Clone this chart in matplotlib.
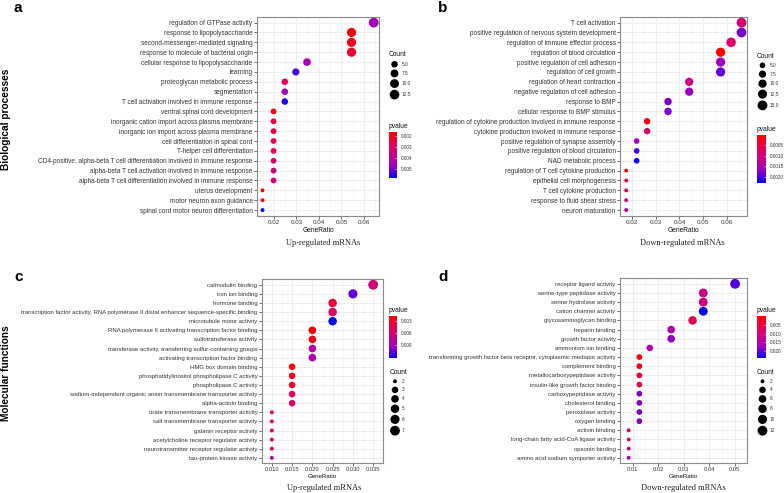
import numpy as np
import matplotlib
matplotlib.use('Agg')
import matplotlib.pyplot as plt
from matplotlib.colors import LinearSegmentedColormap, Normalize
from matplotlib.cm import ScalarMappable

W, H = 784, 493
plt.rcParams['font.family'] = ['Liberation Sans', 'DejaVu Sans']

# red -> blue as ggplot interpolates it (through Lab)
cmap = LinearSegmentedColormap.from_list(
    'rb', ['#FF0000', '#E80050', '#CA0089', '#9A00C3', '#0000FF'])

# ---- a: biological processes, up-regulated
a_terms = ['regulation of GTPase activity', 'response to lipopolysaccharide',
           'second-messenger-mediated signaling', 'response to molecule of bacterial origin',
           'cellular response to lipopolysaccharide', 'learning',
           'proteoglycan metabolic process', 'segmentation',
           'T cell activation involved in immune response', 'ventral spinal cord development',
           'inorganic cation import across plasma membrane',
           'inorganic ion import across plasma membrane', 'cell differentiation in spinal cord',
           'T-helper cell differentiation',
           'CD4-positive, alpha-beta T cell differentiation involved in immune response',
           'alpha-beta T cell activation involved in immune response',
           'alpha-beta T cell differentiation involved in immune response',
           'uterus development', 'motor neuron axon guidance',
           'spinal cord motor neuron differentiation']
a_ratio = [0.0644, 0.0545, 0.0545, 0.0545, 0.0347, 0.0297, 0.0248, 0.0248, 0.0248, 0.0198,
           0.0198, 0.0198, 0.0198, 0.0198, 0.0198, 0.0198, 0.0198, 0.0149, 0.0149, 0.0149]
a_count = [13, 11, 11, 11, 7, 6, 5, 5, 5, 4, 4, 4, 4, 4, 4, 4, 4, 3, 3, 3]
a_pval = [0.0046, 0.0017, 0.0020, 0.0022, 0.0045, 0.0053, 0.0028, 0.0046, 0.0056, 0.0016,
          0.0024, 0.0024, 0.0026, 0.0026, 0.0030, 0.0034, 0.0033, 0.0016, 0.0017, 0.0058]

# ---- b: biological processes, down-regulated
b_terms = ['T cell activation', 'positive regulation of nervous system development',
           'regulation of immune effector process', 'regulation of blood circulation',
           'positive regulation of cell adhesion', 'regulation of cell growth',
           'regulation of heart contraction', 'negative regulation of cell adhesion',
           'response to BMP', 'cellular response to BMP stimulus',
           'regulation of cytokine production involved in immune response',
           'cytokine production involved in immune response',
           'positive regulation of synapse assembly', 'positive regulation of blood circulation',
           'NAD metabolic process', 'regulation of T cell cytokine production',
           'epithelial cell morphogenesis', 'T cell cytokine production',
           'response to fluid shear stress', 'neuron maturation']
b_ratio = [0.0661, 0.0661, 0.0617, 0.0573, 0.0573, 0.0573, 0.0441, 0.0441, 0.0352, 0.0352,
           0.0264, 0.0264, 0.0220, 0.0220, 0.0220, 0.0176, 0.0176, 0.0176, 0.0176, 0.0176]
b_count = [15, 15, 14, 13, 13, 13, 10, 10, 8, 8, 6, 6, 5, 5, 5, 4, 4, 4, 4, 4]
b_pval = [0.0009, 0.0018, 0.0008, 0.00001, 0.0016, 0.0019, 0.0011, 0.0017, 0.0018, 0.0018,
          0.0002, 0.0008, 0.0016, 0.0020, 0.00227, 0.0001, 0.0003, 0.0006, 0.0010, 0.0015]

# ---- c: molecular functions, up-regulated
c_terms = ['calmodulin binding', 'iron ion binding', 'hormone binding',
           'transcription factor activity, RNA polymerase II distal enhancer sequence-specific binding',
           'microtubule motor activity',
           'RNA polymerase II activating transcription factor binding',
           'sulfotransferase activity',
           'transferase activity, transferring sulfur-containing groups',
           'activating transcription factor binding', 'HMG box domain binding',
           'phosphatidylinositol phospholipase C activity', 'phospholipase C activity',
           'sodium-independent organic anion transmembrane transporter activity',
           'alpha-actinin binding', 'urate transmembrane transporter activity',
           'salt transmembrane transporter activity', 'galanin receptor activity',
           'acetylcholine receptor regulator activity',
           'neurotransmitter receptor regulator activity', 'tau-protein kinase activity']
c_ratio = [0.035, 0.030, 0.025, 0.025, 0.025, 0.020, 0.020, 0.020, 0.020, 0.015,
           0.015, 0.015, 0.015, 0.015, 0.010, 0.010, 0.010, 0.010, 0.010, 0.010]
c_count = [7, 6, 5, 5, 5, 4, 4, 4, 4, 3, 3, 3, 3, 3, 2, 2, 2, 2, 2, 2]
c_pval = [0.0062, 0.0105, 0.0040, 0.0052, 0.0121, 0.0019, 0.0028, 0.0082, 0.0084, 0.0020,
          0.0030, 0.0032, 0.0048, 0.0050, 0.0040, 0.0045, 0.0050, 0.0055, 0.0055, 0.0076]

# ---- d: molecular functions, down-regulated
d_terms = ['receptor ligand activity', 'serine-type peptidase activity',
           'serine hydrolase activity', 'cation channel activity', 'glycosaminoglycan binding',
           'heparin binding', 'growth factor activity', 'ammonium ion binding',
           'transforming growth factor beta receptor, cytoplasmic mediator activity',
           'complement binding', 'metallocarboxypeptidase activity',
           'insulin-like growth factor binding', 'carboxypeptidase activity',
           'cholesterol binding', 'peroxidase activity', 'oxygen binding', 'activin binding',
           'long-chain fatty acid-CoA ligase activity', 'opsonin binding',
           'amino acid:sodium symporter activity']
d_ratio = [0.0502, 0.0377, 0.0377, 0.0377, 0.0335, 0.0251, 0.0251, 0.0167, 0.0126, 0.0126,
           0.0126, 0.0126, 0.0126, 0.0126, 0.0126, 0.0126, 0.0084, 0.0084, 0.0084, 0.0084]
d_count = [12, 9, 9, 9, 8, 6, 6, 4, 3, 3, 3, 3, 3, 3, 3, 3, 2, 2, 2, 2]
d_pval = [0.0205, 0.0110, 0.0112, 0.0237, 0.0060, 0.0150, 0.0180, 0.0145, 0.0002, 0.0020,
          0.0035, 0.0050, 0.0185, 0.0185, 0.0188, 0.0188, 0.0075, 0.0085, 0.0110, 0.0165]

fig = plt.figure(figsize=(W / 100, H / 100), dpi=100)
ov = fig.add_axes([0, 0, 1, 1])
ov.set_xlim(0, W)
ov.set_ylim(H, 0)
ov.axis('off')


def box(x0, y0, x1, y1):
    return [x0 / W, 1 - y1 / H, (x1 - x0) / W, (y1 - y0) / H]


def diam(c, cmin, cmax):
    # scale_size(range = c(3, 8)) -> area scaled diameter, in pixels
    return 3.9 + 5.9 * np.sqrt((np.asarray(c, float) - cmin) / (cmax - cmin))


def txt(x, y, s, **kw):
    fig.text(x / W, 1 - y / H, s, **kw)


def dotplot(rect, terms, ratio, count, pval, xticks, fmt, fs=1.0):
    ax = fig.add_axes(box(*rect))
    n = len(terms)
    y = np.arange(n)[::-1]
    cmin, cmax = min(count), max(count)
    norm = Normalize(min(pval), max(pval))
    ax.scatter(ratio, y, s=(diam(count, cmin, cmax) * 0.72) ** 2, c=pval, cmap=cmap,
               norm=norm, linewidths=0, zorder=3)
    lo, hi = min(ratio), max(ratio)
    pad = 0.05 * (hi - lo)
    ax.set_xlim(lo - pad, hi + pad)
    ax.set_ylim(-0.6, n - 0.4)
    ax.set_xticks(xticks)
    ax.set_xticklabels([fmt.format(t) for t in xticks])
    step = xticks[1] - xticks[0]
    minor = [xticks[0] - step / 2] + [t + step / 2 for t in xticks]
    ax.set_xticks(minor, minor=True)
    ax.set_yticks(y)
    ax.set_yticklabels(terms)
    ax.grid(True, which='major', color='#EBEBEB', lw=0.6, zorder=0)
    ax.grid(True, which='minor', axis='x', color='#F2F2F2', lw=0.4, zorder=0)
    ax.set_axisbelow(True)
    ax.tick_params(axis='both', which='major', length=2, width=0.5, color='#333333',
                   labelsize=4.7 * fs, labelcolor='#333333', pad=1.2)
    ax.tick_params(axis='x', which='minor', length=0)
    ax.tick_params(axis='x', labelsize=4.5 * fs, pad=1)
    for sp in ax.spines.values():
        sp.set_color('#8a8a8a')
        sp.set_linewidth(0.8)
    ax.set_xlabel('GeneRatio', fontsize=4.8 * fs, color='#111111', labelpad=1.2)
    return cmin, cmax, norm


def colorbar(rect, norm, ticks, fmt, title):
    x0, y0, x1, y1 = rect
    txt(x0, y0 - 5.5, title, fontsize=4.8, va='center', ha='left', color='#111111')
    cax = fig.add_axes(box(*rect))
    cb = fig.colorbar(ScalarMappable(norm=norm, cmap=cmap), cax=cax)
    cb.outline.set_visible(False)
    cax.invert_yaxis()
    cb.set_ticks(ticks)
    cb.set_ticklabels([fmt.format(t) for t in ticks])
    cax.tick_params(length=1.5, width=0.4, color='white', direction='in',
                    labelsize=3.4, labelcolor='#333333', pad=2.5)


def size_legend(x, y0, breaks, labels, cmin, cmax):
    txt(x - 5.5, y0, 'Count', fontsize=4.8, va='center', ha='left', color='#111111')
    d = diam(breaks, cmin, cmax)
    h = np.maximum(8.6, d + 1.8)
    cy = y0 + 5 + np.cumsum(h) - h / 2
    ov.scatter([x] * len(breaks), cy, s=(d * 0.72) ** 2, color='black', linewidths=0)
    for yy, lab in zip(cy, labels):
        ov.text(x + 7, yy, lab, fontsize=3.4, va='center', ha='left', color='#333333')


# panel a
cmin, cmax, norm = dotplot((257, 16.7, 379.3, 216), a_terms, a_ratio, a_count, a_pval,
                           [0.02, 0.03, 0.04, 0.05, 0.06], '{:.2f}')
size_legend(394.5, 55, [5, 7.5, 10, 12.5], ['5.0', '7.5', '10.0', '12.5'], cmin, cmax)
colorbar((389, 132, 397.5, 178), norm, [0.002, 0.003, 0.004, 0.005], '{:.3f}', 'pvalue')

# panel b
cmin, cmax, norm = dotplot((620, 16.7, 747.3, 216), b_terms, b_ratio, b_count, b_pval,
                           [0.02, 0.03, 0.04, 0.05, 0.06], '{:.2f}')
size_legend(762.5, 56, [5, 7.5, 10, 12.5, 15], ['5.0', '7.5', '10.0', '12.5', '15.0'], cmin, cmax)
colorbar((757, 135, 766, 182.5), norm, [0.0005, 0.0010, 0.0015, 0.0020], '{:.4f}', 'pvalue')

# panel c
cmin, cmax, norm = dotplot((261.7, 279.3, 383.3, 463.3), c_terms, c_ratio, c_count, c_pval,
                           [0.010, 0.015, 0.020, 0.025, 0.030, 0.035], '{:.3f}', fs=0.92)
colorbar((389, 316, 397.5, 358), norm, [0.003, 0.006, 0.009], '{:.3f}', 'pvalue')
size_legend(395, 372, [2, 3, 4, 5, 6, 7], ['2', '3', '4', '5', '6', '7'], cmin, cmax)

# panel d
cmin, cmax, norm = dotplot((620, 278.3, 747.3, 463.3), d_terms, d_ratio, d_count, d_pval,
                           [0.01, 0.02, 0.03, 0.04, 0.05], '{:.2f}', fs=0.92)
colorbar((757, 316, 766, 358), norm, [0.005, 0.010, 0.015, 0.020], '{:.3f}', 'pvalue')
size_legend(762.5, 372, [2, 4, 6, 8, 10, 12], ['2', '4', '6', '8', '10', '12'], cmin, cmax)

# subtitles, panel letters, row labels
serif = ['Liberation Serif', 'DejaVu Serif']
for x, y, s in [(323, 243, 'Up-regulated mRNAs'), (682.5, 243, 'Down-regulated mRNAs'),
                (324, 488, 'Up-regulated mRNAs'), (683, 488, 'Down-regulated mRNAs')]:
    txt(x, y, s, fontsize=6.0, family=serif, ha='center', va='center', color='#222222')

for x, y, s in [(14, 8, 'a'), (438, 8, 'b'), (14, 277, 'c'), (438, 277, 'd')]:
    txt(x, y, s, fontsize=11, fontweight='bold', ha='left', va='center')

txt(6, 119, 'Biological processes', fontsize=7.3, fontweight='bold', rotation=90,
    ha='center', va='center')
txt(6, 373, 'Molecular functions', fontsize=7.3, fontweight='bold', rotation=90,
    ha='center', va='center')

fig.savefig('out.png', dpi=100)
